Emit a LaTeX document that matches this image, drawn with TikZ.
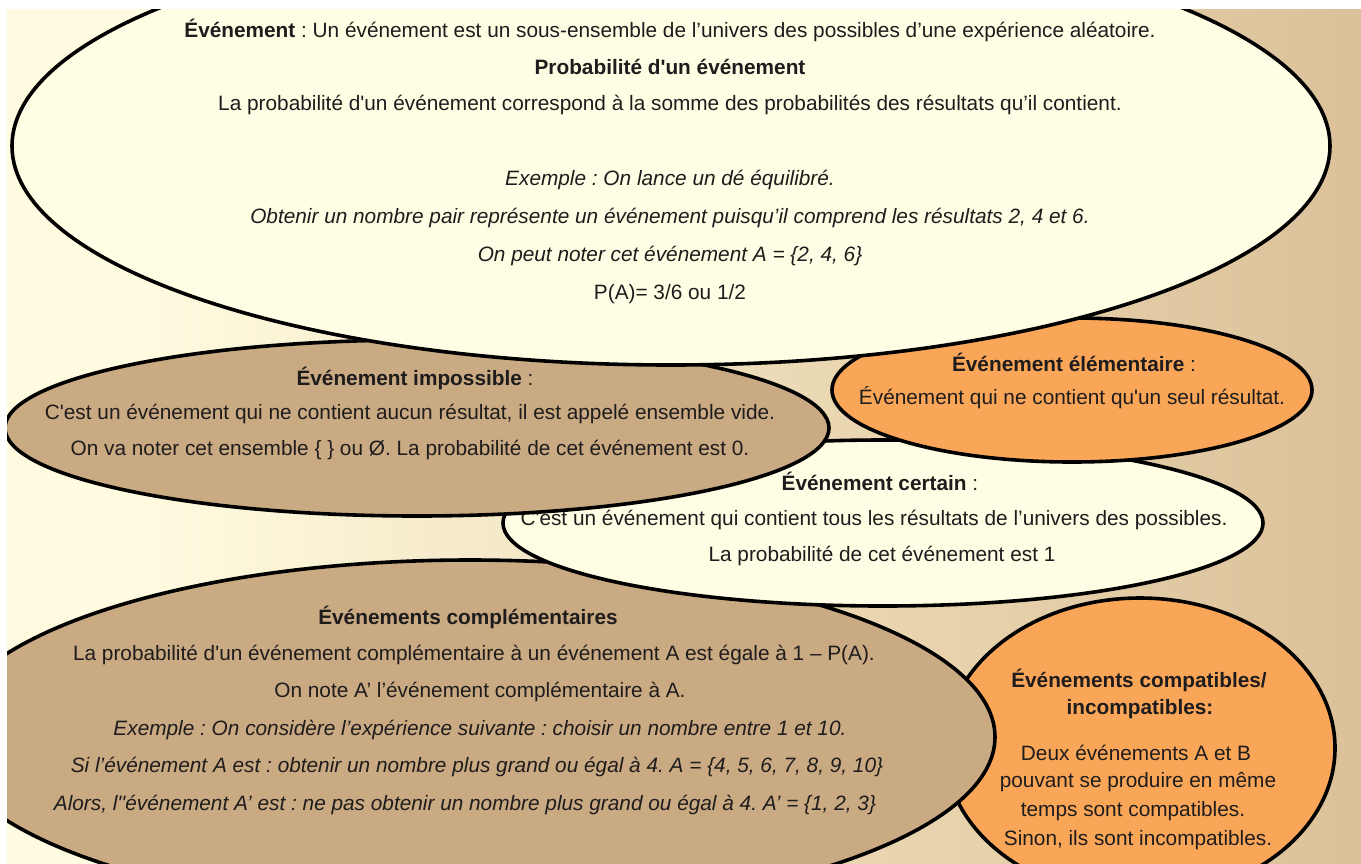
\documentclass[tikz,border=0pt]{standalone}
\usepackage{fontspec}
\setmainfont{Liberation Sans}
\definecolor{bgcream}{RGB}{255,251,224}
\definecolor{bgmid}{RGB}{232,212,174}
\definecolor{bgtan}{RGB}{209,179,139}
\definecolor{creamfill}{RGB}{255,253,228}
\definecolor{tanfill}{RGB}{202,170,131}
\definecolor{orangefill}{RGB}{250,166,88}
\definecolor{inktext}{RGB}{30,28,28}
\newcommand{\strq}{\textquotesingle}
\pgfdeclarehorizontalshading{bgshade}{100bp}{color(0bp)=(bgcream); color(30bp)=(bgcream); color(58bp)=(bgmid); color(88bp)=(bgtan); color(100bp)=(bgtan)}
\tikzset{
  bubble/.style={draw=black, line width=3.6pt},
  txt/.style={text=inktext, font=\fontsize{20.8}{25}\selectfont, inner sep=0pt},
}
\frenchspacing
\begin{document}
\begin{tikzpicture}[x=1pt,y=-1pt]
  \useasboundingbox (0,0) rectangle (1361,863);
  \begin{scope}
    \clip (7,9) rectangle (1361,863);
    \shade [shading=bgshade] (7,9) rectangle (1361,863);

    % compatibles / incompatibles
    \path [bubble, fill=orangefill] (1140,748) ellipse [x radius=195pt, y radius=150pt];
    \node [txt] (comp1) at (1139,680) {\textbf{Événements compatibles/}};
    \node [txt] (comp2) at (1140,709) {\textbf{incompatibles:}};
    \node [txt] (comp3) at (1136,753) {Deux événements A et B};
    \node [txt] (comp4) at (1138,782) {pouvant se produire en même};
    \node [txt] (comp5) at (1133,811) {temps sont compatibles.};
    \node [txt] (comp6) at (1138,840) {Sinon, ils sont incompatibles.};

    % complementaires
    \path [bubble, fill=tanfill] (470,737) ellipse [x radius=525pt, y radius=177pt];
    \node [txt] (compl1) at (468,617) {\textbf{Événements complémentaires}};
    \node [txt] (compl2) at (474,655) {La probabilité d\strq un événement complémentaire à un événement A est égale à 1 – P(A).};
    \node [txt] (compl3) at (480,692) {On note A' l'événement complémentaire à A.};
    \node [txt] (compl4) at (480,730) {\itshape Exemple : On considère l'expérience suivante : choisir un nombre entre 1 et 10.};
    \node [txt] (compl5) at (477,767) {\itshape Si l'événement A est : obtenir un nombre plus grand ou égal à 4. A = \{4, 5, 6, 7, 8, 9, 10\}};
    \node [txt] (compl6) at (465,805) {\itshape Alors, l\strq\strq événement A' est : ne pas obtenir un nombre plus grand ou égal à 4. A' = \{1, 2, 3\}};

    % certain
    \path [bubble, fill=creamfill] (883,523) ellipse [x radius=380pt, y radius=83pt];
    \node [txt] (cert1) at (880,481) {\textbf{Événement certain} :};
    \node [txt] (cert2) at (874,520) {C\strq est un événement qui contient tous les résultats de l'univers des possibles.};
    \node [txt] (cert3) at (882,556) {La probabilité de cet événement est 1};

    % impossible
    \path [bubble, fill=tanfill] (417,428) ellipse [x radius=412pt, y radius=88pt];
    \node [txt] (imp1) at (415,378) {\textbf{Événement impossible} :};
    \node [txt] (imp2) at (410,414) {C\strq est un événement qui ne contient aucun résultat, il est appelé ensemble vide.};
    \node [txt] (imp3) at (410,450) {On va noter cet ensemble \{ \} ou Ø. La probabilité de cet événement est 0.};

    % elementaire
    \path [bubble, fill=orangefill] (1072,390) ellipse [x radius=240pt, y radius=72pt];
    \node [txt] (elem1) at (1074,362) {\textbf{Événement élémentaire} :};
    \node [txt] (elem2) at (1072,398) {Événement qui ne contient qu\strq un seul résultat.};

    % evenement (top)
    \path [bubble, fill=creamfill] (671,146) ellipse [x radius=659pt, y radius=219pt];
    \node [txt] (evt1) at (670,30) {\textbf{Événement} : Un événement est un sous-ensemble de l'univers des possibles d'une expérience aléatoire.};
    \node [txt] (evt2) at (670,67) {\textbf{Probabilité d\strq un événement}};
    \node [txt] (evt3) at (670,105) {La probabilité d\strq un événement correspond à la somme des probabilités des résultats qu'il contient.};
    \node [txt] (evt4) at (670,180) {\itshape Exemple : On lance un dé équilibré.};
    \node [txt] (evt5) at (670,218) {\itshape Obtenir un nombre pair représente un événement puisqu'il comprend les résultats 2, 4 et 6.};
    \node [txt] (evt6) at (670,256) {\itshape On peut noter cet événement A = \{2, 4, 6\}};
    \node [txt] (evt7) at (670,294) {P(A)= 3/6 ou 1/2};
  \end{scope}
\end{tikzpicture}
\end{document}
